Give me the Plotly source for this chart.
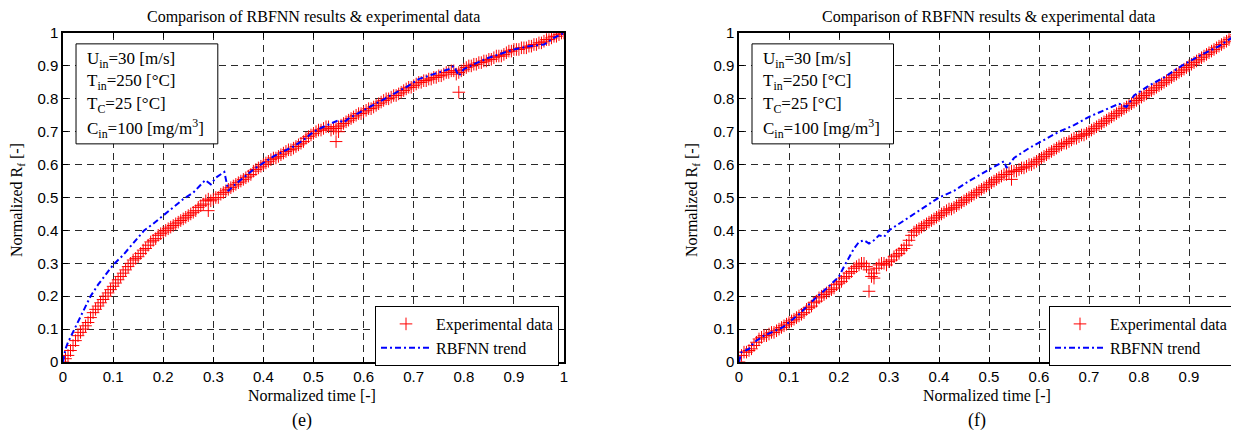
import plotly.graph_objects as go

# ---------------- data: panel (e) ----------------
exp_e_x = [0.00, 0.01, 0.02, 0.03, 0.04, 0.05, 0.06, 0.07, 0.08, 0.09,
           0.10, 0.11, 0.12, 0.13, 0.14, 0.15, 0.16, 0.17, 0.18, 0.19,
           0.20, 0.21, 0.22, 0.23, 0.24, 0.25, 0.26, 0.27, 0.28, 0.29,
           0.30, 0.31, 0.32, 0.33, 0.34, 0.35, 0.36, 0.37, 0.38, 0.39,
           0.40, 0.41, 0.42, 0.43, 0.44, 0.45, 0.46, 0.47, 0.48, 0.49,
           0.50, 0.51, 0.52, 0.53, 0.54, 0.55, 0.56, 0.57, 0.58, 0.59,
           0.60, 0.61, 0.62, 0.63, 0.64, 0.65, 0.66, 0.67, 0.68, 0.69,
           0.70, 0.71, 0.72, 0.73, 0.74, 0.75, 0.76, 0.77, 0.78, 0.79,
           0.80, 0.81, 0.82, 0.83, 0.84, 0.85, 0.86, 0.87, 0.88, 0.89,
           0.90, 0.91, 0.92, 0.93, 0.94, 0.95, 0.96, 0.97, 0.98, 0.99,
           1.00, 0.29, 0.545, 0.55, 0.79]
exp_e_y = [0.000, 0.020, 0.050, 0.080, 0.100, 0.120, 0.150, 0.170, 0.190, 0.210,
           0.230, 0.250, 0.270, 0.290, 0.310, 0.320, 0.340, 0.355, 0.370, 0.385,
           0.395, 0.405, 0.415, 0.425, 0.435, 0.445, 0.455, 0.470, 0.480, 0.495,
           0.495, 0.500, 0.515, 0.525, 0.535, 0.545, 0.555, 0.565, 0.580, 0.590,
           0.600, 0.610, 0.620, 0.625, 0.635, 0.645, 0.650, 0.660, 0.670, 0.685,
           0.695, 0.705, 0.710, 0.715, 0.710, 0.715, 0.725, 0.735, 0.745, 0.755,
           0.760, 0.770, 0.775, 0.785, 0.795, 0.800, 0.810, 0.815, 0.825, 0.835,
           0.840, 0.850, 0.855, 0.860, 0.865, 0.870, 0.875, 0.880, 0.885, 0.880,
           0.890, 0.900, 0.905, 0.910, 0.915, 0.920, 0.925, 0.930, 0.935, 0.945,
           0.950, 0.950, 0.955, 0.960, 0.965, 0.970, 0.975, 0.980, 0.990, 0.995,
           1.000, 0.460, 0.670, 0.700, 0.820]
exp_e_x_mid = [0.005, 0.015, 0.025, 0.035, 0.045, 0.055, 0.065, 0.075, 0.085, 0.095,
               0.105, 0.115, 0.125, 0.135, 0.145, 0.155, 0.165, 0.175, 0.185, 0.195,
               0.205, 0.215, 0.225, 0.235, 0.245, 0.255, 0.265, 0.275, 0.285, 0.295,
               0.305, 0.315, 0.325, 0.335, 0.345, 0.355, 0.365, 0.375, 0.385, 0.395,
               0.405, 0.415, 0.425, 0.435, 0.445, 0.455, 0.465, 0.475, 0.485, 0.495,
               0.505, 0.515, 0.525, 0.535, 0.545, 0.555, 0.565, 0.575, 0.585, 0.595,
               0.605, 0.615, 0.625, 0.635, 0.645, 0.655, 0.665, 0.675, 0.685, 0.695,
               0.705, 0.715, 0.725, 0.735, 0.745, 0.755, 0.765, 0.775, 0.785, 0.795,
               0.805, 0.815, 0.825, 0.835, 0.845, 0.855, 0.865, 0.875, 0.885, 0.895,
               0.905, 0.915, 0.925, 0.935, 0.945, 0.955, 0.965, 0.975, 0.985, 0.995]
exp_e_y_mid = [0.010, 0.035, 0.065, 0.090, 0.110, 0.135, 0.160, 0.180, 0.200, 0.220,
               0.240, 0.260, 0.280, 0.300, 0.315, 0.330, 0.345, 0.365, 0.375, 0.390,
               0.400, 0.410, 0.420, 0.430, 0.440, 0.450, 0.460, 0.475, 0.490, 0.490,
               0.500, 0.510, 0.520, 0.530, 0.540, 0.550, 0.560, 0.570, 0.585, 0.595,
               0.605, 0.615, 0.620, 0.630, 0.640, 0.645, 0.655, 0.665, 0.680, 0.690,
               0.700, 0.705, 0.715, 0.705, 0.710, 0.720, 0.730, 0.740, 0.750, 0.755,
               0.765, 0.770, 0.780, 0.790, 0.800, 0.805, 0.810, 0.820, 0.830, 0.835,
               0.845, 0.850, 0.855, 0.860, 0.865, 0.870, 0.880, 0.885, 0.875, 0.885,
               0.895, 0.900, 0.905, 0.910, 0.915, 0.920, 0.930, 0.930, 0.940, 0.945,
               0.950, 0.955, 0.955, 0.960, 0.965, 0.970, 0.980, 0.985, 0.990, 1.000]

rbf_e_x = [0.000, 0.005, 0.010, 0.020, 0.030, 0.040, 0.055, 0.070, 0.085, 0.100,
           0.120, 0.140, 0.162, 0.180, 0.200, 0.220, 0.240, 0.260, 0.284, 0.295,
           0.305, 0.322, 0.326, 0.330, 0.340, 0.360, 0.380, 0.400, 0.420, 0.440,
           0.460, 0.480, 0.500, 0.520, 0.540, 0.550, 0.560, 0.570, 0.600, 0.630,
           0.660, 0.690, 0.710, 0.730, 0.750, 0.770, 0.780, 0.790, 0.800, 0.820,
           0.850, 0.880, 0.900, 0.930, 0.960, 0.980, 1.000]
rbf_e_y = [0.000, 0.040, 0.060, 0.090, 0.120, 0.150, 0.200, 0.235, 0.265, 0.295,
           0.325, 0.360, 0.400, 0.420, 0.445, 0.470, 0.495, 0.515, 0.553, 0.540,
           0.560, 0.578, 0.545, 0.520, 0.535, 0.560, 0.585, 0.605, 0.625, 0.640,
           0.655, 0.675, 0.700, 0.715, 0.730, 0.735, 0.728, 0.740, 0.765, 0.790,
           0.815, 0.840, 0.860, 0.870, 0.880, 0.890, 0.900, 0.870, 0.890, 0.905,
           0.925, 0.940, 0.950, 0.960, 0.965, 0.985, 1.000]

# ---------------- data: panel (f) ----------------
exp_f_x = [0.00, 0.01, 0.02, 0.03, 0.04, 0.05, 0.06, 0.07, 0.08, 0.09,
           0.10, 0.11, 0.12, 0.13, 0.14, 0.15, 0.16, 0.17, 0.18, 0.19,
           0.20, 0.21, 0.22, 0.23, 0.24, 0.25, 0.26, 0.265, 0.27, 0.28, 0.29,
           0.30, 0.31, 0.32, 0.33, 0.34, 0.35, 0.36, 0.37, 0.38, 0.39,
           0.40, 0.41, 0.42, 0.43, 0.44, 0.45, 0.46, 0.47, 0.48, 0.49,
           0.50, 0.51, 0.52, 0.53, 0.54, 0.55, 0.56, 0.57, 0.58, 0.59,
           0.60, 0.61, 0.62, 0.63, 0.64, 0.65, 0.66, 0.67, 0.68, 0.69,
           0.70, 0.71, 0.72, 0.73, 0.74, 0.75, 0.76, 0.77, 0.78, 0.79,
           0.80, 0.81, 0.82, 0.83, 0.84, 0.85, 0.86, 0.87, 0.88, 0.89,
           0.90, 0.91, 0.92, 0.93, 0.94, 0.95, 0.96, 0.97, 0.98, 0.99,
           1.00, 0.26, 0.27, 0.545]
exp_f_y = [0.000, 0.030, 0.035, 0.050, 0.070, 0.080, 0.085, 0.090, 0.100, 0.110,
           0.120, 0.130, 0.140, 0.150, 0.165, 0.180, 0.195, 0.205, 0.215, 0.225,
           0.240, 0.255, 0.270, 0.285, 0.295, 0.300, 0.280, 0.260, 0.270, 0.295, 0.300,
           0.305, 0.320, 0.330, 0.345, 0.370, 0.395, 0.405, 0.415, 0.425, 0.435,
           0.445, 0.455, 0.465, 0.470, 0.480, 0.490, 0.500, 0.510, 0.520, 0.530,
           0.540, 0.550, 0.560, 0.570, 0.575, 0.580, 0.585, 0.590, 0.600, 0.605,
           0.615, 0.625, 0.635, 0.645, 0.655, 0.665, 0.670, 0.680, 0.685, 0.690,
           0.700, 0.710, 0.720, 0.730, 0.740, 0.750, 0.760, 0.770, 0.780, 0.790,
           0.800, 0.810, 0.820, 0.830, 0.840, 0.850, 0.860, 0.870, 0.880, 0.890,
           0.900, 0.910, 0.920, 0.930, 0.940, 0.950, 0.960, 0.970, 0.980, 0.990,
           1.000, 0.215, 0.255, 0.555]
exp_f_x_mid = [0.005, 0.015, 0.025, 0.035, 0.045, 0.055, 0.065, 0.075, 0.085, 0.095,
               0.105, 0.115, 0.125, 0.135, 0.145, 0.155, 0.165, 0.175, 0.185, 0.195,
               0.205, 0.215, 0.225, 0.235, 0.245, 0.255, 0.275, 0.285, 0.295,
               0.305, 0.315, 0.325, 0.335, 0.345, 0.355, 0.365, 0.375, 0.385, 0.395,
               0.405, 0.415, 0.425, 0.435, 0.445, 0.455, 0.465, 0.475, 0.485, 0.495,
               0.505, 0.515, 0.525, 0.535, 0.545, 0.555, 0.565, 0.575, 0.585, 0.595,
               0.605, 0.615, 0.625, 0.635, 0.645, 0.655, 0.665, 0.675, 0.685, 0.695,
               0.705, 0.715, 0.725, 0.735, 0.745, 0.755, 0.765, 0.775, 0.785, 0.795,
               0.805, 0.815, 0.825, 0.835, 0.845, 0.855, 0.865, 0.875, 0.885, 0.895,
               0.905, 0.915, 0.925, 0.935, 0.945, 0.955, 0.965, 0.975, 0.985, 0.995]
exp_f_y_mid = [0.020, 0.030, 0.040, 0.060, 0.075, 0.080, 0.090, 0.095, 0.105, 0.115,
               0.125, 0.135, 0.145, 0.160, 0.170, 0.185, 0.200, 0.210, 0.220, 0.235,
               0.245, 0.260, 0.275, 0.290, 0.300, 0.290, 0.285, 0.300, 0.295,
               0.310, 0.325, 0.340, 0.355, 0.385, 0.400, 0.410, 0.420, 0.430, 0.440,
               0.450, 0.460, 0.465, 0.475, 0.485, 0.495, 0.505, 0.515, 0.525, 0.535,
               0.545, 0.555, 0.565, 0.570, 0.580, 0.580, 0.590, 0.595, 0.600, 0.610,
               0.620, 0.630, 0.640, 0.650, 0.660, 0.665, 0.675, 0.680, 0.690, 0.695,
               0.705, 0.715, 0.725, 0.735, 0.745, 0.755, 0.765, 0.775, 0.785, 0.795,
               0.805, 0.815, 0.825, 0.835, 0.845, 0.855, 0.865, 0.875, 0.885, 0.895,
               0.905, 0.915, 0.925, 0.935, 0.945, 0.955, 0.965, 0.975, 0.985, 0.995]

rbf_f_x = [0.000, 0.005, 0.020, 0.030, 0.050, 0.087, 0.120, 0.150, 0.180, 0.200,
           0.210, 0.220, 0.230, 0.240, 0.250, 0.260, 0.270, 0.280, 0.290, 0.300,
           0.330, 0.360, 0.400, 0.430, 0.460, 0.500, 0.520, 0.530, 0.535, 0.550,
           0.580, 0.610, 0.640, 0.670, 0.700, 0.730, 0.760, 0.775, 0.790, 0.820,
           0.850, 0.885, 0.920, 0.960, 1.000]
rbf_f_y = [0.000, 0.030, 0.040, 0.060, 0.080, 0.105, 0.145, 0.190, 0.230, 0.260,
           0.290, 0.320, 0.345, 0.365, 0.370, 0.360, 0.370, 0.385, 0.380, 0.400,
           0.430, 0.460, 0.500, 0.520, 0.550, 0.585, 0.600, 0.610, 0.590, 0.620,
           0.650, 0.675, 0.700, 0.720, 0.745, 0.765, 0.785, 0.775, 0.810, 0.840,
           0.865, 0.900, 0.930, 0.960, 1.000]

tick_vals = [0, 0.1, 0.2, 0.3, 0.4, 0.5, 0.6, 0.7, 0.8, 0.9, 1]
tick_text = ["0", "0.1", "0.2", "0.3", "0.4", "0.5", "0.6", "0.7", "0.8", "0.9", "1"]

title_text = "Comparison of RBFNN results &amp; experimental data"
info_lines = ["U<sub>in</sub>=30 [m/s]", "T<sub>in</sub>=250 [°C]",
              "T<sub>C</sub>=25 [°C]", "C<sub>in</sub>=100 [mg/m<sup>3</sup>]"]
panel_labels = ["(e)", "(f)"]

# ---------------- layout geometry ----------------
# the page body adds an 8px margin, so the figure is offset by 8px on screen
OFF = 8
W, H = 1239 - OFF, 433 - OFF
SERIF = "Times New Roman, Liberation Serif, DejaVu Serif, serif"
SANS = "Arial, Liberation Sans, sans-serif"


def sx(px):
    return (px - OFF) / W


def sy(py):
    return 1 - (py - OFF) / H


left_dom = [sx(63), sx(564)]
right_dom = [sx(739), 1.0]
ydom = [sy(362), sy(33)]

fig = go.Figure()

panels = [
    (exp_e_x + exp_e_x_mid, exp_e_y + exp_e_y_mid, rbf_e_x, rbf_e_y, "x", "y", "legend"),
    (exp_f_x + exp_f_x_mid, exp_f_y + exp_f_y_mid, rbf_f_x, rbf_f_y, "x2", "y2", "legend2"),
]
for ex, ey, rx, ry, xa, ya, lg in panels:
    fig.add_trace(go.Scatter(
        x=ex, y=ey, mode="markers", name="Experimental data",
        marker=dict(symbol="cross-thin", size=9, color="red",
                    line=dict(color="red", width=1)),
        xaxis=xa, yaxis=ya, legend=lg))
    fig.add_trace(go.Scatter(
        x=rx, y=ry, mode="lines", name="RBFNN trend",
        line=dict(color="blue", width=2, dash="6px,3px,2px,3px"),
        xaxis=xa, yaxis=ya, legend=lg))

axis_common = dict(
    range=[0, 1], tickvals=tick_vals, ticktext=tick_text,
    ticks="inside", ticklen=5, tickcolor="black", tickwidth=1,
    showline=True, linecolor="black", linewidth=1.5, mirror="ticks",
    showgrid=True, gridcolor="#2a2a2a", gridwidth=1, griddash="7px,5px",
    zeroline=False, automargin=False,
    tickfont=dict(family=SANS, size=15, color="black"),
)

legend_common = dict(
    y=sy(306), xanchor="left", yanchor="top",
    bgcolor="white", bordercolor="black", borderwidth=1,
    font=dict(family=SERIF, size=16, color="black"),
    itemwidth=50, tracegroupgap=0,
)

fig.update_layout(
    width=W, height=H,
    margin=dict(l=0, r=0, t=0, b=0, pad=0, autoexpand=False),
    paper_bgcolor="white", plot_bgcolor="white",
    font=dict(family=SERIF),
    showlegend=True,
    xaxis=dict(domain=left_dom, anchor="y", **axis_common),
    yaxis=dict(domain=ydom, anchor="x", **axis_common),
    xaxis2=dict(domain=right_dom, anchor="y2", **axis_common),
    yaxis2=dict(domain=ydom, anchor="x2", **axis_common),
    legend=dict(x=sx(375), **legend_common),
    legend2=dict(x=sx(739 + 310), **legend_common),
)

shapes = []
annotations = []
centers = [313, 988]
for i, (xr, yr) in enumerate([("x", "y"), ("x2", "y2")]):
    shapes.append(dict(type="rect", xref=xr, yref=yr, x0=0.026, x1=0.309,
                       y0=0.663, y1=0.967, line=dict(color="black", width=1),
                       fillcolor="white", layer="above"))
    for line, yv in zip(info_lines, [0.918, 0.851, 0.781, 0.711]):
        annotations.append(dict(text=line, xref=xr, yref=yr, x=0.044, y=yv,
                                xanchor="left", yanchor="middle", showarrow=False,
                                font=dict(family=SERIF, size=17, color="black")))
    cx = centers[i]
    annotations.append(dict(text=title_text, xref="paper", yref="paper",
                            x=sx(cx), y=sy(17), xanchor="center", yanchor="middle",
                            showarrow=False, font=dict(family=SERIF, size=16, color="black")))
    annotations.append(dict(text="Normalized time [-]", xref="paper", yref="paper",
                            x=sx(cx - 1), y=sy(395), xanchor="center", yanchor="middle",
                            showarrow=False, font=dict(family=SERIF, size=16, color="black")))
    annotations.append(dict(text=panel_labels[i], xref="paper", yref="paper",
                            x=sx(cx - 11), y=sy(420), xanchor="center", yanchor="middle",
                            showarrow=False, font=dict(family=SERIF, size=18, color="black")))
    annotations.append(dict(text="Normalized R<sub>f</sub> [-]", xref="paper", yref="paper",
                            x=sx([17, 692][i]), y=sy(200), xanchor="center", yanchor="middle",
                            textangle=-90, showarrow=False,
                            font=dict(family=SERIF, size=16, color="black")))

fig.update_layout(shapes=shapes, annotations=annotations)

fig.write_html("out.html")
